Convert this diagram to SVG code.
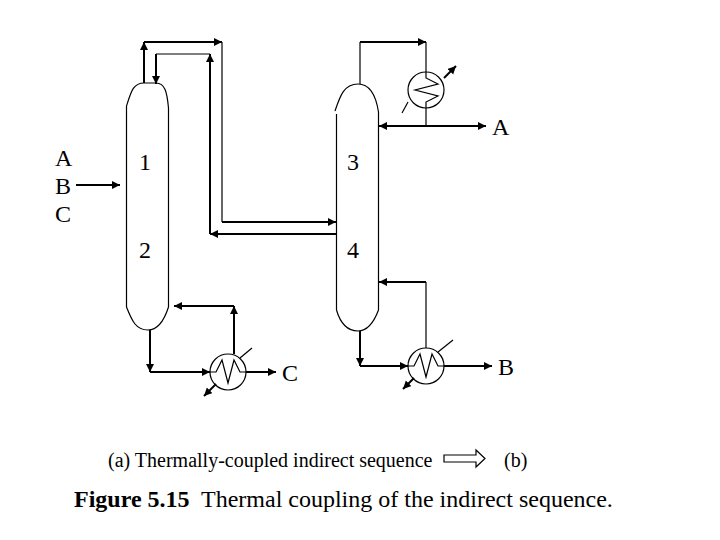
<svg xmlns="http://www.w3.org/2000/svg" width="720" height="540" viewBox="0 0 720 540">
<style>
.col,.hx{fill:none;stroke:#000;stroke-width:1.2}
.th{fill:none;stroke:#000;stroke-width:1.2}
.tk{fill:none;stroke:#000;stroke-width:2}
.ar{marker-end:url(#a)}
.as{marker-start:url(#b)}
text{font-family:"Liberation Serif","Times New Roman",serif;fill:#000}
.l{font-size:24px}
.n{font-size:20px}
</style>
<defs>
<marker id="a" markerUnits="userSpaceOnUse" markerWidth="10" markerHeight="10" refX="8" refY="4" orient="auto"><path d="M0 0L8 4L0 8z"/></marker>
<marker id="b" markerUnits="userSpaceOnUse" markerWidth="10" markerHeight="10" refX="0" refY="4" orient="auto"><path d="M8 0L0 4L8 8z"/></marker>
</defs>
<rect width="720" height="540" fill="#fff"/>
<g id="connectors">
<path class="tk ar" d="M144 83V42"/>
<path class="tk ar" d="M144 42H222"/>
<path class="th" d="M222 42V222"/>
<path class="tk ar" d="M222 222H336"/>
<path class="tk ar" d="M210 234V54"/>
<path class="tk" d="M336 234H210"/>
<path class="tk ar" d="M336 234H210"/>
<path class="th" d="M210 54H156"/>
<path class="tk ar" d="M156 54V84"/>
<path class="tk ar" d="M76 185H120"/>
<path class="tk ar" d="M150 330V372"/>
<path class="tk ar" d="M150 372H210"/>
<path class="tk ar" d="M234 354V306"/>
<path class="tk ar" d="M234 306H174"/>
<path class="tk ar" d="M246 372H276"/>
<path class="th" d="M360 84V42"/>
<path class="tk ar" d="M360 42H426"/>
<path class="th" d="M426 42V72"/>
<path class="th" d="M426 108V126"/>
<path class="tk ar as" d="M379 126H486"/>
<path class="tk ar" d="M360 331V366"/>
<path class="tk ar" d="M360 366H408"/>
<path class="tk ar" d="M444 366H492"/>
<path class="th" d="M426 348V282"/>
<path class="tk ar" d="M426 282H379"/>
</g>
<g id="column-1">
<path class="col" d="M126.500 106C131 92 133 83 144 83H156C165 83 167 92 168.500 108V307C164 321 158 330 148 330C136 330 132 321 126.500 307Z"/>
<text class="l" x="139" y="170">1</text>
<text class="l" x="139" y="258">2</text>
</g>
<g id="column-2">
<path class="col" d="M335 111C340 96 344 84 358 84C370 84 376 96 378.500 112V310C374 322 368 331 358 331C346 331 340 322 336.500 310V114"/>
<text class="l" x="347" y="170">3</text>
<text class="l" x="347" y="258">4</text>
</g>
<g id="condenser">
<circle class="hx" cx="426" cy="90" r="18"/>
<path class="hx" d="M426 72V78L438 84L415 90L438 96L426 102V108"/>
<path class="th" d="M408 102L402 113"/>
<path class="tk ar" d="M444 78L456 66"/>
</g>
<g id="reboiler-1">
<circle class="hx" cx="228" cy="372" r="18"/>
<path class="hx" d="M210 372H216L222 360L228 383L234 360L240 372H246"/>
<path class="th" d="M240 358L252 348"/>
<path class="tk ar" d="M216 384L204 396"/>
</g>
<g id="reboiler-2">
<circle class="hx" cx="426" cy="366" r="18"/>
<path class="hx" d="M408 366H414L420 354L426 377L432 354L438 366H444"/>
<path class="th" d="M438 352L453 340"/>
<path class="tk ar" d="M414 378L403 389"/>
</g>
<g id="labels">
<text class="l" x="55" y="166">A</text>
<text class="l" x="55" y="194">B</text>
<text class="l" x="55" y="222">C</text>
<text class="l" x="492" y="135">A</text>
<text class="l" x="282" y="381">C</text>
<text class="l" x="498" y="375">B</text>
<text class="n" x="108" y="467">(a) Thermally-coupled indirect sequence</text>
<text class="n" x="504" y="467">(b)</text>
<text x="74" y="507" font-size="24"><tspan font-weight="bold">Figure 5.15</tspan><tspan x="201">Thermal coupling of the indirect sequence.</tspan></text>
</g>
<g id="big-arrow">
<path fill="#fff" stroke="#000" stroke-width="1.2" d="M444 455H476V450L485 458.500L476 467V462H444Z"/>
</g>
</svg>
